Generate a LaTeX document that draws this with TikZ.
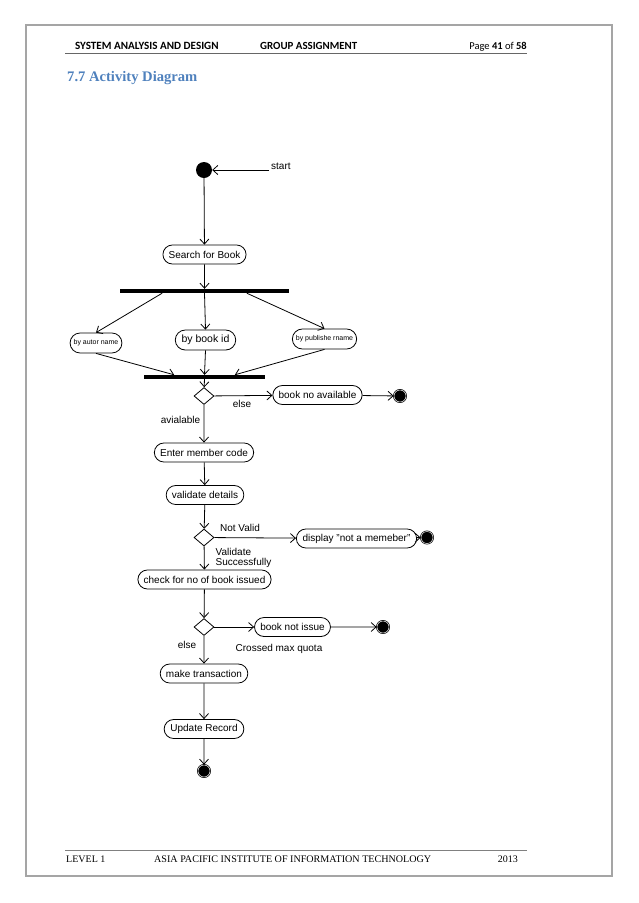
\documentclass[tikz,border=0pt]{standalone}
\usepackage{fontspec}
\setmainfont{Liberation Sans}
\newfontfamily\headfont{Carlito}
\newfontfamily\footfont{Liberation Serif}
\usetikzlibrary{arrows.meta,shapes.geometric,shapes.misc,calc}
\definecolor{titleblue}{RGB}{79,129,189}
\definecolor{framegray}{RGB}{165,165,165}

\begin{document}
\begin{tikzpicture}[x=1pt,y=-1pt,
    >={Straight Barb[length=5pt,width=9pt]},
    activity/.style={rounded rectangle, draw, line width=0.8pt, minimum height=19pt,
      inner xsep=5pt, inner ysep=1pt, font=\fontsize{10}{12}\selectfont},
    tinyact/.style={activity, minimum height=20pt, inner xsep=3pt, font=\fontsize{7}{8}\selectfont},
    decision/.style={diamond, draw, line width=0.8pt, minimum width=20pt, minimum height=17pt, inner sep=0pt},
    initial/.style={circle, fill=black, minimum size=16pt, inner sep=0pt},
    final/.style={circle, draw=black, fill=black, minimum size=12pt, inner sep=0pt,
      line width=0.7pt, double=white, double distance=0.5pt},
    bar/.style={rectangle, fill=black, minimum height=4pt, inner sep=0pt},
    lbl/.style={inner sep=0pt, font=\fontsize{10}{12}\selectfont},
    head/.style={inner sep=0pt, font=\headfont\fontsize{10.5}{12}\selectfont},
    foot/.style={inner sep=0pt, font=\footfont\fontsize{10}{12}\selectfont}]

  \useasboundingbox (0,0) rectangle (638,903);

  % page frame, header and footer
  \draw[framegray, line width=1.5pt] (26,25) rectangle (612,876);
  \node[head, anchor=base west, font=\headfont\bfseries\fontsize{11.1}{13}\selectfont] (hsys) at (75,49.5) {SYSTEM ANALYSIS AND DESIGN};
  \node[head, anchor=base west, font=\headfont\bfseries\fontsize{10.9}{13}\selectfont] (hgrp) at (260,49.5) {GROUP ASSIGNMENT};
  \node[head, anchor=base east] (hpage) at (527,49.5) {Page \textbf{41} of \textbf{58}};
  \draw[gray!80!black, line width=0.8pt] (65,53.5) -- (527,53.5);
  \node[anchor=base west, inner sep=0pt, text=titleblue,
    font=\footfont\bfseries\fontsize{14.6}{17}\selectfont] (title) at (67,81) {7.7 Activity Diagram};
  \draw[gray, line width=0.8pt] (65,850) -- (527,850);
  \node[foot, anchor=base west] (flevel) at (66,862) {LEVEL 1};
  \node[foot, anchor=base west, font=\footfont\fontsize{10.1}{12}\selectfont] (finst) at (154,862) {ASIA PACIFIC INSTITUTE OF INFORMATION TECHNOLOGY};
  \node[foot, anchor=base east] (fyear) at (518,862) {2013};

  % states and activities
  \node[initial] (start) at (204,170) {};
  \coordinate (startin) at (269,170);
  \node[lbl, anchor=base west] (startlbl) at (271,169.5) {start};
  \node[activity] (search) at (204.5,254.5) {Search for Book};
  \node[bar, minimum width=169pt] (fork) at (204.5,291) {};
  \node[tinyact] (autor) at (96,343) {by autor name};
  \node[activity, font=\fontsize{10.5}{12}\selectfont, minimum height=20pt] (bookid) at (205.5,340) {by book id};
  \node[tinyact] (publ) at (324.5,339) {by publishe rname};
  \node[bar, minimum width=121pt] (join) at (204.5,377) {};
  \node[decision] (d1) at (204,396) {};
  \node[activity] (noavail) at (317.5,395) {book no available};
  \node[final] (end1) at (400,396) {};
  \node[activity] (member) at (204,452.5) {Enter member code};
  \node[activity] (validate) at (205,495) {validate details};
  \node[decision] (d2) at (204,537.5) {};
  \node[activity] (notmem) at (356.5,538.5) {display "not a memeber"};
  \node[final] (end2) at (427,537.5) {};
  \node[activity] (check) at (204.5,579.5) {check for no of book issued};
  \node[decision] (d3) at (204,627) {};
  \node[activity] (notissue) at (292.5,627) {book not issue};
  \node[final] (end3) at (383,627) {};
  \node[activity] (trans) at (204,673.5) {make transaction};
  \node[activity] (update) at (204,729) {Update Record};
  \node[final] (end4) at (204,771) {};

  % points on the bars
  \coordinate (f1) at ($(fork.south west)!0.25!(fork.south east)$);
  \coordinate (f2) at (fork.south);
  \coordinate (f3) at ($(fork.south west)!0.75!(fork.south east)$);
  \coordinate (j1) at ($(join.north west)!0.25!(join.north east)$);
  \coordinate (j2) at (join.north);
  \coordinate (j3) at ($(join.north west)!0.75!(join.north east)$);

  % guard labels
  \node[lbl] (elsea) at (242,403.5) {else};
  \node[lbl] (avail) at (180.5,420) {avialable};
  \node[lbl] (notvalid) at (240,528) {Not Valid};
  \node[lbl, anchor=north west, align=left, font=\fontsize{10}{10.5}\selectfont] (valok) at (215.5,548) {Validate\\Successfully};
  \node[lbl] (elseb) at (187,644.5) {else};
  \node[lbl] (quota) at (279,649) {Crossed max quota};

  % flows
  \begin{scope}[every edge/.style={draw, ->, line width=0.8pt}]
    \path (startin) edge (start);
    \path (start) edge (search);
    \path (search) edge (fork);
    \path (f1) edge (autor.north);
    \path (f2) edge (bookid.north);
    \path (f3) edge (publ.north);
    \path (autor.south) edge (j1);
    \path (bookid.south) edge (j2);
    \path (publ.south) edge (j3);
    \path (join) edge (d1);
    \path (d1) edge (noavail);
    \path (noavail) edge (end1);
    \path (d1) edge (member);
    \path (member) edge (validate);
    \path (validate) edge (d2);
    \path (d2) edge (notmem);
    \path (notmem) edge (end2);
    \path (d2) edge (check);
    \path (check) edge (d3);
    \path (d3) edge (notissue);
    \path (notissue) edge (end3);
    \path (d3) edge (trans);
    \path (trans) edge (update);
    \path (update) edge (end4);
  \end{scope}

\end{tikzpicture}
\end{document}
